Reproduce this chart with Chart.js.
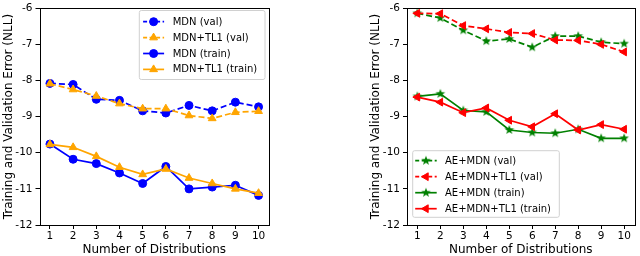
<!DOCTYPE html>
<html><head><meta charset="utf-8">
<script src="https://cdn.jsdelivr.net/npm/chart.js@4.4.0/dist/chart.umd.min.js"></script>
<style>
html,body{margin:0;padding:0;background:#fff;width:640px;height:256px;overflow:hidden}
.c{position:absolute;top:0;width:320px;height:256px}
</style></head><body>
<div class="c" style="left:0"><canvas id="left" width="320" height="256"></canvas></div>
<div class="c" style="left:320px"><canvas id="right" width="320" height="256"></canvas></div>
<script>
const categories = [1, 2, 3, 4, 5, 6, 7, 8, 9, 10];
const xTickLabels = ['1', '2', '3', '4', '5', '6', '7', '8', '9', '10'];
const yTickValues = [-12, -11, -10, -9, -8, -7, -6];
const yTickLabels = ['-12', '-11', '-10', '-9', '-8', '-7', '-6'];

const mdnVal      = [-8.08, -8.11, -8.52, -8.55, -8.84, -8.90, -8.69, -8.84, -8.60, -8.73];
const mdnTl1Val   = [-8.09, -8.25, -8.43, -8.64, -8.78, -8.78, -8.97, -9.05, -8.88, -8.85];
const mdnTrain    = [-9.76, -10.18, -10.30, -10.56, -10.85, -10.38, -11.00, -10.95, -10.90, -11.18];
const mdnTl1Train = [-9.77, -9.85, -10.10, -10.40, -10.60, -10.45, -10.70, -10.85, -11.00, -11.12];

const aeMdnVal      = [-6.14, -6.27, -6.61, -6.91, -6.85, -7.08, -6.77, -6.77, -6.94, -6.98];
const aeMdnTl1Val   = [-6.14, -6.15, -6.48, -6.57, -6.67, -6.70, -6.88, -6.89, -7.00, -7.21];
const aeMdnTrain    = [-8.44, -8.37, -8.83, -8.87, -9.37, -9.44, -9.46, -9.35, -9.60, -9.60];
const aeMdnTl1Train = [-8.46, -8.60, -8.89, -8.76, -9.10, -9.28, -8.92, -9.37, -9.22, -9.35];

const FONT = 'DejaVu Sans';

function makeStar(color) {
  const size = 12, outer = 5, inner = 2.1;
  const c = document.createElement('canvas'); c.width = c.height = size;
  const g = c.getContext('2d'); g.fillStyle = color; g.beginPath();
  for (let i = 0; i < 10; i++) {
    const r = i % 2 ? inner : outer, a = -Math.PI / 2 + i * Math.PI / 5;
    g.lineTo(size / 2 + r * Math.cos(a), size / 2 + r * Math.sin(a));
  }
  g.closePath(); g.fill();
  return c;
}
const greenStar = makeStar('#008000');

function drawMarker(ctx, ds, x, y) {
  const st = ds.pointStyle, r = ds.pointRadius;
  ctx.fillStyle = ds.backgroundColor; ctx.strokeStyle = ds.borderColor; ctx.lineWidth = 1;
  if (st instanceof HTMLCanvasElement) { ctx.drawImage(st, x - st.width / 2, y - st.height / 2); return; }
  ctx.beginPath();
  if (st === 'circle') { ctx.arc(x, y, r, 0, Math.PI * 2); }
  else if (st === 'triangle') {
    let rad = (ds.pointRotation || 0) * Math.PI / 180;
    for (let k = 0; k < 3; k++) { ctx.lineTo(x + Math.sin(rad) * r, y - Math.cos(rad) * r); rad += 2 * Math.PI / 3; }
    ctx.closePath();
  }
  ctx.fill(); ctx.stroke();
}

const frameAndLegend = {
  id: 'frameAndLegend',
  afterDatasetsDraw(chart, args, opts) {
    const ctx = chart.ctx, a = chart.chartArea;
    ctx.save();
    ctx.strokeStyle = '#000'; ctx.lineWidth = 1; ctx.setLineDash([]);
    ctx.strokeRect(Math.round(a.left) + 0.5, Math.round(a.top) + 0.5, Math.round(a.right) - Math.round(a.left), Math.round(a.bottom) - Math.round(a.top));
    const L = opts.box;
    ctx.beginPath();
    if (ctx.roundRect) ctx.roundRect(L.left, L.top, L.width, L.height, 2); else ctx.rect(L.left, L.top, L.width, L.height);
    ctx.fillStyle = 'rgba(255,255,255,0.85)'; ctx.fill();
    ctx.strokeStyle = '#d0d0d0'; ctx.lineWidth = 1; ctx.stroke();
    ctx.font = '10px "' + FONT + '"'; ctx.textBaseline = 'middle'; ctx.textAlign = 'left';
    chart.data.datasets.forEach((ds, i) => {
      const y = L.top + L.first + i * L.gap;
      const x0 = L.left + L.padX, x1 = x0 + L.handle;
      ctx.strokeStyle = ds.borderColor; ctx.lineWidth = ds.borderWidth;
      ctx.setLineDash(ds.borderDash && ds.borderDash.length ? [4, 2.5] : []);
      ctx.beginPath(); ctx.moveTo(x0, y); ctx.lineTo(x1, y); ctx.stroke();
      ctx.setLineDash([]);
      drawMarker(ctx, ds, (x0 + x1) / 2, y);
      ctx.fillStyle = '#000';
      ctx.fillText(ds.label, L.left + L.text, y + 0.5);
    });
    ctx.restore();
  }
};

function series(label, values, color, dashed, style, radius, rotation, order) {
  return {
    label, data: categories.map((c, i) => ({ x: c, y: values[i] })),
    borderColor: color, backgroundColor: color, borderWidth: 1.7,
    borderDash: dashed ? [6, 3] : [], pointStyle: style, pointRadius: radius,
    pointRotation: rotation || 0, pointBorderColor: color, pointBackgroundColor: color,
    pointBorderWidth: 1, fill: false, tension: 0, order
  };
}

function makeChart(id, datasets, padding, yWidth, box) {
  const tickFont = { family: FONT, size: 10.5, lineHeight: 1 };
  const titleFont = { family: FONT, size: 12, lineHeight: 1.2 };
  return new Chart(document.getElementById(id), {
    type: 'line',
    data: { datasets },
    options: {
      responsive: false, animation: false, devicePixelRatio: 1,
      layout: { padding },
      plugins: { legend: { display: false }, tooltip: { enabled: false }, frameAndLegend: { box } },
      scales: {
        x: {
          type: 'linear', min: 0.55, max: 10.45,
          afterBuildTicks: s => { s.ticks = categories.map(v => ({ value: v })); },
          afterFit: s => { s.height = 31; },
          ticks: { callback: (v, i) => xTickLabels[i], autoSkip: false, maxRotation: 0, padding: 2, color: '#000', font: tickFont },
          grid: { drawOnChartArea: false, drawTicks: true, tickLength: 4, color: '#000', lineWidth: 1 },
          border: { display: false },
          title: { display: true, text: 'Number of Distributions', color: '#000', font: titleFont, padding: { top: 0, bottom: -1 } }
        },
        y: {
          type: 'linear', min: -12, max: -6,
          afterBuildTicks: s => { s.ticks = yTickValues.map(v => ({ value: v })); },
          afterFit: s => { s.width = yWidth; },
          ticks: { callback: (v, i) => yTickLabels[i], autoSkip: false, padding: 3, color: '#000', font: tickFont },
          grid: { drawOnChartArea: false, drawTicks: true, tickLength: 4, color: '#000', lineWidth: 1 },
          border: { display: false },
          title: { display: true, text: 'Training and Validation Error (NLL)', color: '#000', font: titleFont, padding: { top: 0, bottom: 0 } }
        }
      }
    },
    plugins: [frameAndLegend]
  });
}

makeChart('left', [
  series('MDN (val)', mdnVal, '#0000ff', true, 'circle', 4, 0, 4),
  series('MDN+TL1 (val)', mdnTl1Val, '#ffa500', true, 'triangle', 4.5, 0, 3),
  series('MDN (train)', mdnTrain, '#0000ff', false, 'circle', 4, 0, 2),
  series('MDN+TL1 (train)', mdnTl1Train, '#ffa500', false, 'triangle', 4.5, 0, 1)
], { left: 2, right: 51, top: 5, bottom: 0 }, 37.5,
  { left: 139.3, top: 10.5, width: 125.7, height: 69, first: 11.2, gap: 15.9, padX: 3.8, handle: 21, text: 33.4 });

makeChart('right', [
  series('AE+MDN (val)', aeMdnVal, '#008000', true, greenStar, 4.5, 0, 4),
  series('AE+MDN+TL1 (val)', aeMdnTl1Val, '#ff0000', true, 'triangle', 4.5, -90, 3),
  series('AE+MDN (train)', aeMdnTrain, '#008000', false, greenStar, 4.5, 0, 2),
  series('AE+MDN+TL1 (train)', aeMdnTl1Train, '#ff0000', false, 'triangle', 4.5, -90, 1)
], { left: 48.3, right: 3, top: 5, bottom: 0 }, 38.7,
  { left: 92.7, top: 150.7, width: 146.6, height: 66.6, first: 10, gap: 16, padX: 2.5, handle: 21.5, text: 32.3 });
</script>
</body></html>
